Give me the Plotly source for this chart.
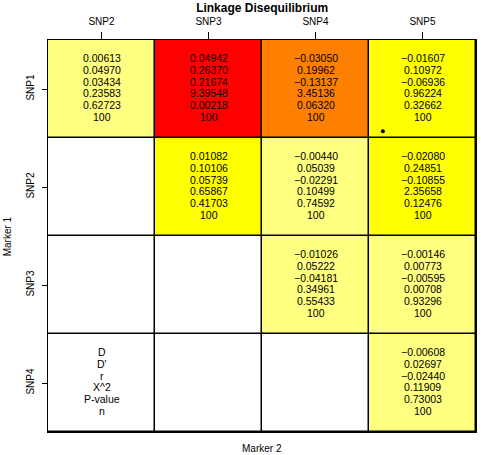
import numpy as np
import plotly.graph_objects as go

# markers on each axis
row_markers = ["SNP1", "SNP2", "SNP3", "SNP4"]
col_markers = ["SNP2", "SNP3", "SNP4", "SNP5"]

# LD statistics, rows = Marker 1, cols = Marker 2 (None = no pair)
D = [[0.00613, 0.04942, -0.03050, -0.01607],
     [None, 0.01082, -0.00440, -0.02080],
     [None, None, -0.01026, -0.00146],
     [None, None, None, -0.00608]]
D_prime = [[0.04970, 0.26370, 0.19962, 0.10972],
           [None, 0.10106, 0.05039, 0.24851],
           [None, None, 0.05222, 0.00773],
           [None, None, None, 0.02697]]
r = [[0.03434, 0.21674, -0.13137, -0.06936],
     [None, 0.05739, -0.02291, -0.10855],
     [None, None, -0.04181, -0.00595],
     [None, None, None, -0.02440]]
chi2 = [[0.23583, 9.39548, 3.45136, 0.96224],
        [None, 0.65867, 0.10499, 2.35658],
        [None, None, 0.34961, 0.00708],
        [None, None, None, 0.11909]]
p_value = [[0.62723, 0.00218, 0.06320, 0.32662],
           [None, 0.41703, 0.74592, 0.12476],
           [None, None, 0.55433, 0.93296],
           [None, None, None, 0.73003]]
n_obs = [[100, 100, 100, 100],
         [None, 100, 100, 100],
         [None, None, 100, 100],
         [None, None, None, 100]]

key_labels = ["D", "D'", "r", "X^2", "P-value", "n"]
p_breaks = [0.01, 0.1, 0.5]

# stray point drawn in the SNP1/SNP5 cell
dot_x = [2.63]
dot_y = [0.43]

colors = ["#FFFFFF", "#FFFF80", "#FFFF00", "#FF8000", "#FF0000"]
cscale = []
for k, c in enumerate(colors):
    cscale.append([k / len(colors), c])
    cscale.append([(k + 1) / len(colors), c])

# colour class from p-value: 0 = empty, 1 = pale ... 4 = red
z = []
for row in p_value:
    zr = []
    for p in row:
        if p is None:
            zr.append(0)
        else:
            zr.append(4 - int(np.digitize(p, p_breaks)))
    z.append(zr)

fig = go.Figure()
fig.add_trace(go.Heatmap(
    z=z, x=list(range(len(col_markers))), y=list(range(len(row_markers))),
    colorscale=cscale, zmin=-0.5, zmax=4.5, showscale=False,
    xgap=1.5, ygap=1.5, hoverinfo="skip"))

fig.add_trace(go.Scatter(x=dot_x, y=dot_y, mode="markers",
                         marker=dict(color="black", size=4, symbol="circle"),
                         hoverinfo="skip", showlegend=False))


def fmt(v):
    s = f"{v:.5f}"
    return s.replace("-", "\u2212")


line_h = 11.7
annos = []


def add_lines(lines, x, y):
    for k, txt in enumerate(lines):
        annos.append(dict(x=x, y=y, text=txt, showarrow=False,
                          yshift=-(k - 2.5) * line_h + 1.5,
                          font=dict(size=10.5, color="black",
                                    family="Liberation Sans")))


for i in range(len(row_markers)):
    for j in range(len(col_markers)):
        if D[i][j] is None:
            continue
        lines = [fmt(D[i][j]), fmt(D_prime[i][j]), fmt(r[i][j]),
                 fmt(chi2[i][j]), fmt(p_value[i][j]), str(n_obs[i][j])]
        add_lines(lines, j, i)

add_lines(key_labels, 0, 3)

annos.append(dict(text="Marker 2", xref="paper", yref="paper", x=0.5, y=-0.043,
                  yanchor="middle", showarrow=False,
                  font=dict(size=10, family="Liberation Sans", color="black")))
annos.append(dict(text="Marker 1", xref="paper", yref="paper", x=-0.095,
                  y=0.5, xanchor="center", yanchor="middle", textangle=-90,
                  showarrow=False,
                  font=dict(size=10, family="Liberation Sans", color="black")))

fig.update_layout(
    width=481, height=455,
    margin=dict(l=48, r=5, t=40, b=23, autoexpand=False),
    paper_bgcolor="white", plot_bgcolor="black",
    font=dict(family="Liberation Sans", size=10, color="black"),
    title=dict(text="<b>Linkage Disequilibrium</b>", x=0.545, xanchor="center",
               y=0.982, yanchor="middle", yref="container",
               font=dict(size=12, family="Liberation Sans", color="black")),
    annotations=annos,
    showlegend=False,
)
fig.update_xaxes(side="top", range=[-0.5, 3.5], tickvals=list(range(4)),
                 ticktext=col_markers, ticks="outside", ticklen=7,
                 tickcolor="black", showgrid=False, zeroline=False,
                 showline=True, linecolor="black", linewidth=1, mirror=True,
                 tickfont=dict(size=10), automargin=False,
                 ticklabelstandoff=3)
fig.update_yaxes(range=[3.5, -0.5], tickvals=list(range(4)),
                 ticktext=row_markers, ticks="outside", ticklen=5,
                 tickcolor="black", tickangle=-90, showgrid=False,
                 zeroline=False, showline=True, linecolor="black",
                 linewidth=1, mirror=True, tickfont=dict(size=10),
                 automargin=False, ticklabelstandoff=4)

# the page body has a default 8px margin; drop it so the figure fills the window
fig.write_html("out.html", config={"displayModeBar": False},
               post_script="document.body.style.margin='0';")
